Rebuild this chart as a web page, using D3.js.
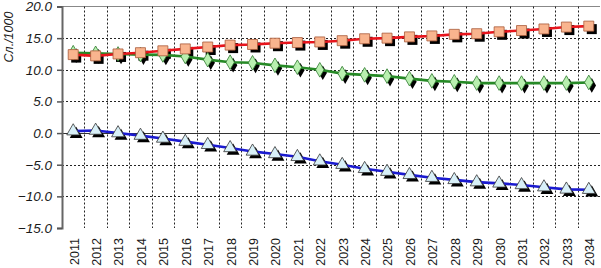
<!DOCTYPE html>
<html><head><meta charset="utf-8">
<script src="https://cdn.jsdelivr.net/npm/d3@7"></script>
<style>
html,body{margin:0;padding:0;background:#fff;}
svg{display:block;}
</style>
</head><body>
<svg id="c" width="601" height="268"></svg>
<script>
const years = ["2011","2012","2013","2014","2015","2016","2017","2018","2019","2020","2021","2022","2023","2024","2025","2026","2027","2028","2029","2030","2031","2032","2033","2034"];
const redSeries = [12.4,12.2,12.5,12.7,13.0,13.3,13.6,13.9,14.0,14.2,14.3,14.4,14.6,14.9,15.0,15.2,15.35,15.6,15.7,16.0,16.2,16.45,16.75,16.9];
const greenSeries = [12.7,12.6,12.5,12.4,12.35,12.1,11.6,11.2,11.1,10.7,10.4,10.0,9.4,9.2,9.0,8.6,8.25,8.1,7.9,7.9,7.9,7.9,7.9,8.0];
const blueSeries = [0.3,0.4,0.0,-0.4,-0.85,-1.35,-1.85,-2.35,-2.9,-3.3,-3.75,-4.45,-5.0,-5.65,-6.1,-6.6,-7.05,-7.4,-7.75,-7.95,-8.2,-8.55,-8.9,-8.95];
const yTicks = [20,15,10,5,0,-5,-10,-15];
const yLabel = "Сл./1000";

const svg = d3.select("#c");
const L = 62, R = 600, T = 6.5, B = 228;
const x = d3.scaleBand().domain(years).range([L, R]).padding(0);
const y = d3.scaleLinear().domain([-15, 20]).range([B, T]);
const cx = d => x(d) + x.bandwidth() / 2;

// top border
svg.append("line").attr("x1", L).attr("x2", R).attr("y1", T).attr("y2", T)
  .attr("stroke", "#888").attr("stroke-width", 1);

// horizontal gridlines
svg.append("g").selectAll("line").data(yTicks.filter(v => v !== 0 && v !== 20 && v !== -15)).join("line")
  .attr("x1", L).attr("x2", R).attr("y1", d => Math.round(y(d)) + 0.5).attr("y2", d => Math.round(y(d)) + 0.5)
  .attr("stroke", "#222").attr("stroke-width", 1).attr("stroke-dasharray", "2,2");

// vertical gridlines at band boundaries
svg.append("g").selectAll("line").data(years.slice(1)).join("line")
  .attr("x1", d => Math.round(x(d)) + 0.5).attr("x2", d => Math.round(x(d)) + 0.5)
  .attr("y1", T).attr("y2", B)
  .attr("stroke", "#222").attr("stroke-width", 1).attr("stroke-dasharray", "2,2");

// zero line
svg.append("line").attr("x1", L).attr("x2", R).attr("y1", Math.round(y(0)) + 0.5).attr("y2", Math.round(y(0)) + 0.5)
  .attr("stroke", "#333").attr("stroke-width", 1.2);

// y axis
const yAxis = d3.axisLeft(y).tickValues(yTicks).tickSize(5).tickFormat(d3.format(".1f")).tickPadding(5);
const ga = svg.append("g").attr("transform", `translate(${L},0)`).call(yAxis);
ga.select(".domain").attr("stroke", "#666").attr("stroke-width", 2);
ga.selectAll(".tick line").attr("stroke", "#555").attr("stroke-width", 1.5);
ga.selectAll(".tick text").attr("font-family", "Liberation Sans, Arial, sans-serif")
  .attr("font-size", 13.5).attr("font-style", "italic").attr("fill", "#1a1a1a");

// x axis labels
const gx = svg.append("g").attr("transform", `translate(0,238)`);
gx.selectAll("text").data(years).join("text")
  .attr("transform", d => `translate(${cx(d) + 1},0) rotate(-90)`)
  .attr("text-anchor", "end").attr("dy", "0.35em")
  .attr("font-family", "Liberation Sans, Arial, sans-serif").attr("font-size", 12.5).attr("fill", "#1a1a1a")
  .text(d => d);

// y label
svg.append("text").attr("transform", "translate(13,37) rotate(-90)")
  .attr("text-anchor", "middle")
  .attr("font-family", "Liberation Sans, Arial, sans-serif").attr("font-size", 12.5).attr("font-style", "italic")
  .attr("fill", "#1a1a1a").text(yLabel);

const series = [
  {vals: greenSeries, line: "#268a26", fill: "#b9f0b0", stroke: "#2f7a2f", sym: d3.symbolDiamond, size: 62},
  {vals: redSeries, line: "#e8141c", fill: "#f9b48e", stroke: "#a85a3a", sym: d3.symbolSquare, size: 100},
  {vals: blueSeries, line: "#1a1ad0", fill: "#d8f0f8", stroke: "#333", sym: d3.symbolTriangle, size: 72}
];
const lineGen = vals => d3.line().x((d, i) => cx(years[i])).y(d => y(d))(vals);

// shadows first
series.forEach(s => {
  svg.append("g").selectAll("path").data(s.vals).join("path")
    .attr("transform", (d, i) => `translate(${cx(years[i]) + 3},${y(d) + 3})`)
    .attr("d", d3.symbol().type(s.sym).size(s.size))
    .attr("fill", "#000");
});
series.forEach(s => {
  svg.append("path").attr("d", lineGen(s.vals)).attr("fill", "none")
    .attr("stroke", s.line).attr("stroke-width", 2.6);
});
series.forEach(s => {
  svg.append("g").selectAll("path").data(s.vals).join("path")
    .attr("transform", (d, i) => `translate(${cx(years[i])},${y(d)})`)
    .attr("d", d3.symbol().type(s.sym).size(s.size))
    .attr("fill", s.fill).attr("stroke", s.stroke).attr("stroke-width", 0.8);
});
</script>
</body></html>
